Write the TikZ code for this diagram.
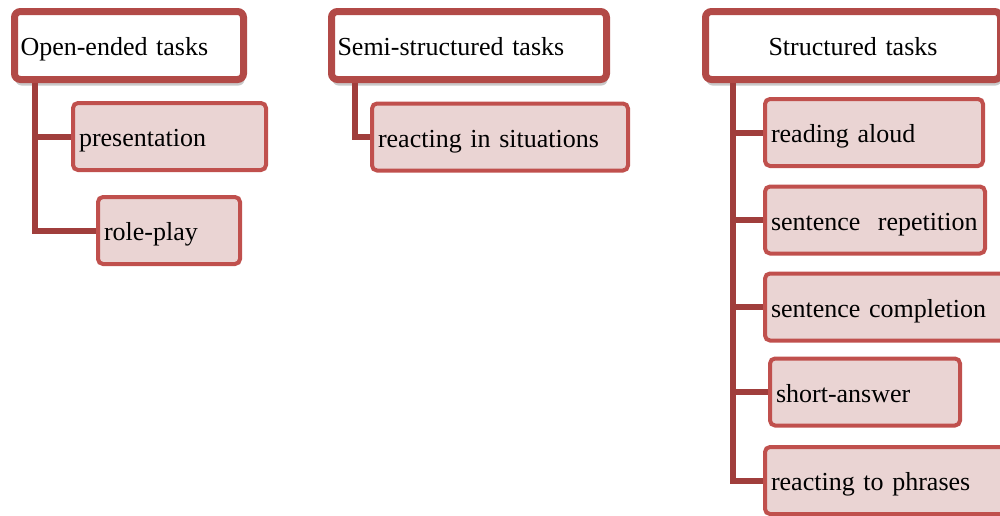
\documentclass[tikz,border=0pt]{standalone}
\usepackage{fontspec}
\setmainfont{Liberation Serif}
\usetikzlibrary{shadows}
\definecolor{headred}{HTML}{B24A47}
\definecolor{boxred}{HTML}{C0504D}
\definecolor{boxfill}{HTML}{EAD4D3}
\definecolor{linered}{HTML}{A03E3C}

\begin{document}
\begin{tikzpicture}[x=1pt,y=-1pt,
  head/.style={draw=headred,line width=7pt,rounded corners=6pt,fill=white,
    drop shadow={shadow xshift=1pt,shadow yshift=-6pt,opacity=0.3,fill=black!70},
    minimum height=68pt,inner xsep=6pt,text height=23pt,text depth=4pt,
    align=left,font=\fontsize{26}{30}\selectfont},
  task/.style={draw=boxred,line width=4pt,rounded corners=5pt,fill=boxfill,
    minimum height=67pt,inner xsep=6pt,text height=23pt,text depth=3pt,
    align=left,font=\fontsize{26}{30}\selectfont},
  link/.style={draw=linered,line width=6pt}]
\useasboundingbox (0,0) rectangle (1000,515);
\clip (0,0) rectangle (1000,515);
\node[head,text width=217pt] (open) at (129,45.5) {Open-ended tasks};
\node[head,text width=263pt] (semi) at (469,45.5) {Semi-structured tasks};
\node[head,text width=283pt,align=center] (struct) at (853,45.5) {Structured tasks};
\node[task,text width=181pt] (pres) at (169.5,136.5) {presentation};
\node[task,text width=130pt] (role) at (169,230.5) {role-play};
\node[task,text width=244pt] (sit) at (500,137) {reacting in situations};
\node[task,text width=206pt] (read) at (874,132.5) {reading aloud};
\node[task,text width=208pt] (rep) at (875,220) {sentence\ \ repetition};
\node[task,text width=233pt] (compl) at (887.5,307) {sentence completion};
\node[task,text width=178pt] (short) at (865,392) {short-answer};
\node[task,text width=233pt] (phr) at (887.5,480.5) {reacting to phrases};
\coordinate (openT) at ([xshift=23.5pt]open.south west);
\coordinate (semiT) at ([xshift=26.5pt]semi.south west);
\coordinate (structT) at ([xshift=31pt]struct.south west);
\draw[link] (openT) |- (pres.west);
\draw[link] (openT) |- (role.west);
\draw[link] (semiT) |- (sit.west);
\draw[link] (structT) |- (read.west);
\draw[link] (structT) |- (rep.west);
\draw[link] (structT) |- (compl.west);
\draw[link] (structT) |- (short.west);
\draw[link] (structT) |- (phr.west);
\end{tikzpicture}
\end{document}
